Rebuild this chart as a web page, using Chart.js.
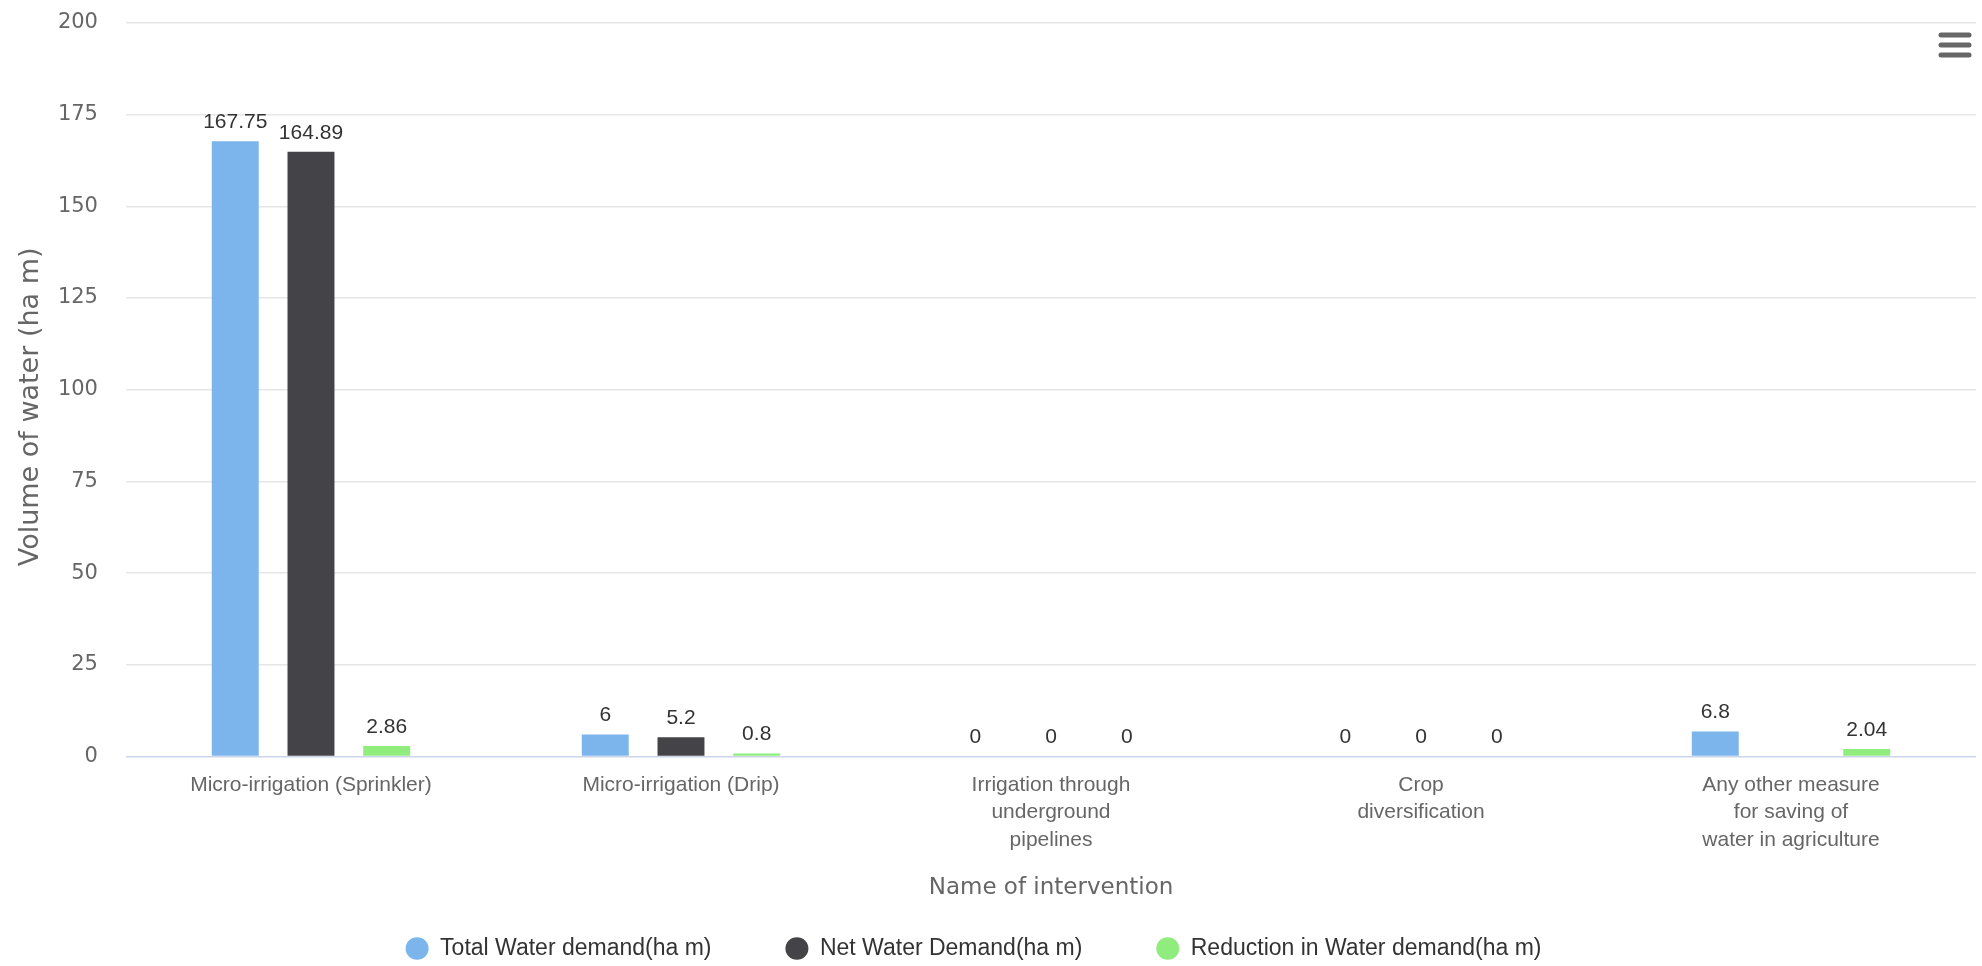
<!DOCTYPE html>
<html>
<head>
<meta charset="utf-8">
<script src="https://cdn.jsdelivr.net/npm/chart.js@4/dist/chart.umd.min.js"></script>
<style>
  html, body { margin: 0; padding: 0; background: #fff; }
  #wrap { width: 1982px; height: 966px; position: relative; }
</style>
</head>
<body>
<div id="wrap"><canvas id="waterChart"></canvas></div>
<script>
// categories (multi-line tick labels)
const interventions = [
    ['Micro-irrigation (Sprinkler)'],
    ['Micro-irrigation (Drip)'],
    ['Irrigation through', 'underground', 'pipelines'],
    ['Crop', 'diversification'],
    ['Any other measure', 'for saving of', 'water in agriculture']
];

// series values (ha m)
const totalDemand = [167.75, 6, 0, 0, 6.8];
const netDemand = [164.89, 5.2, 0, 0, null];
const reductionDemand = [2.86, 0.8, 0, 0, 2.04];

const seriesNames = ['Total Water demand(ha m)', 'Net Water Demand(ha m)', 'Reduction in Water demand(ha m)'];
const seriesColors = ['#7cb5ec', '#434348', '#90ed7d'];

// y axis ticks
const yTicks = [0, 25, 50, 75, 100, 125, 150, 175, 200];

// value labels above each bar
const valueLabels = {
    id: 'valueLabels',
    afterDatasetsDraw(chart) {
        const ctx = chart.ctx;
        ctx.save();
        ctx.font = '21px "Liberation Sans", Arial, sans-serif';
        ctx.fillStyle = '#333';
        ctx.textAlign = 'center';
        ctx.textBaseline = 'alphabetic';
        chart.data.datasets.forEach((ds, i) => {
            const meta = chart.getDatasetMeta(i);
            meta.data.forEach((bar, j) => {
                const v = ds.data[j];
                if (v === null || v === undefined) return;
                ctx.fillText(String(v), bar.x, bar.y - 13);
            });
        });
        ctx.restore();
    }
};

// menu icon top right
const menuIcon = {
    id: 'menuIcon',
    afterDraw(chart) {
        const ctx = chart.ctx;
        ctx.save();
        ctx.strokeStyle = '#666';
        ctx.lineWidth = 5;
        ctx.lineCap = 'round';
        [35, 45, 55].forEach(y => {
            ctx.beginPath();
            ctx.moveTo(1941, y);
            ctx.lineTo(1969, y);
            ctx.stroke();
        });
        ctx.restore();
    }
};

const gapSpaces = ' '.repeat(10);

const ctx = document.getElementById('waterChart').getContext('2d');
const waterChart = new Chart(ctx, {
    type: 'bar',
    data: {
        labels: interventions,
        datasets: [
            { label: seriesNames[0], data: totalDemand, backgroundColor: seriesColors[0] },
            { label: seriesNames[1], data: netDemand, backgroundColor: seriesColors[1] },
            { label: seriesNames[2], data: reductionDemand, backgroundColor: seriesColors[2] }
        ]
    },
    options: {
        responsive: true,
        maintainAspectRatio: false,
        animation: false,
        categoryPercentage: 0.614,
        barPercentage: 0.62,
        layout: { padding: { top: 23, right: 6, bottom: -4, left: 3 } },
        plugins: {
            tooltip: { enabled: false },
            legend: {
                position: 'bottom',
                labels: {
                    usePointStyle: true,
                    pointStyle: 'circle',
                    pointStyleWidth: 23,
                    boxHeight: 16,
                    padding: 10,
                    color: '#333',
                    font: { family: '"Liberation Sans", Arial, sans-serif', size: 23 },
                    generateLabels(chart) {
                        const items = Chart.defaults.plugins.legend.labels.generateLabels(chart);
                        items.forEach((it, i) => {
                            it.text = it.text + (i < items.length - 1 ? gapSpaces : '     ');
                        });
                        return items;
                    }
                }
            }
        },
        scales: {
            x: {
                grid: { display: false, drawTicks: false },
                border: { display: false },
                ticks: {
                    color: '#666',
                    padding: 15,
                    maxRotation: 0,
                    autoSkip: false,
                    font: { family: '"Liberation Sans", Arial, sans-serif', size: 21, lineHeight: '27.5px' }
                },
                title: {
                    display: true,
                    text: 'Name of intervention',
                    color: '#666',
                    font: { family: '"DejaVu Sans", Verdana, sans-serif', size: 23 },
                    padding: { top: 5, bottom: 25.5 }
                }
            },
            y: {
                min: yTicks[0],
                max: yTicks[yTicks.length - 1],
                border: { display: false },
                grid: {
                    drawTicks: true,
                    tickLength: 20,
                    tickColor: 'rgba(0,0,0,0)',
                    color: c => (c.tick && c.tick.value === 0 ? '#ccd6eb' : '#e6e6e6'),
                    lineWidth: 1.5
                },
                ticks: {
                    stepSize: yTicks[1] - yTicks[0],
                    color: '#666',
                    padding: 8,
                    font: { family: '"DejaVu Sans", Verdana, sans-serif', size: 21 }
                },
                title: {
                    display: true,
                    text: 'Volume of water (ha m)    ',
                    color: '#666',
                    font: { family: '"DejaVu Sans", Verdana, sans-serif', size: 27 },
                    padding: { top: 12, bottom: 2.5 }
                }
            }
        }
    },
    plugins: [valueLabels, menuIcon]
});
</script>
</body>
</html>
